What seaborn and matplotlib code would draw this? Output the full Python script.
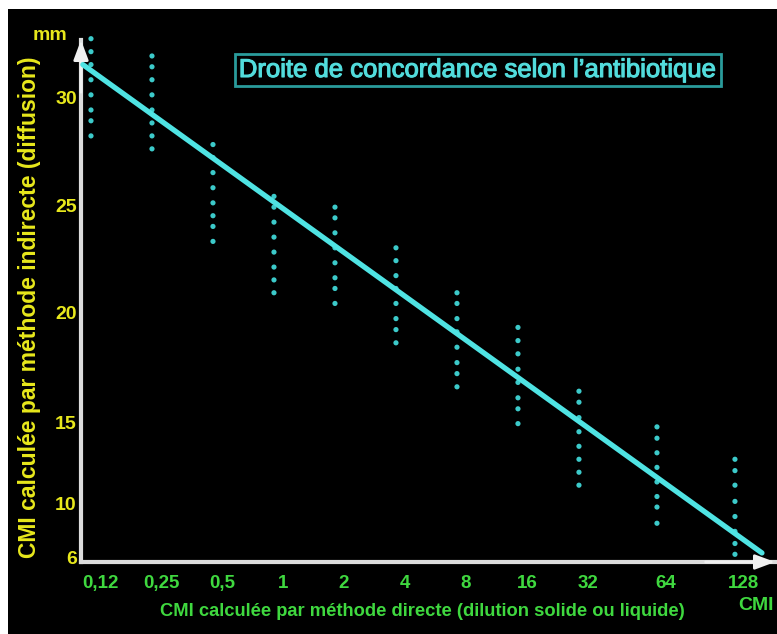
import numpy as np
import pandas as pd
import matplotlib
matplotlib.use('Agg')
import matplotlib.pyplot as plt
import matplotlib.transforms as mtransforms
import matplotlib.patheffects as pe
import seaborn as sns

# CMI dilutions and their tick labels
cmi = [0.125, 0.25, 0.5, 1, 2, 4, 8, 16, 32, 64, 128]
cmi_labels = ['0,12', '0,25', '0,5', '1', '2', '4', '8', '16', '32', '64', '128']

# inhibition diameters (mm) read for each dilution, one dotted column each
diam_0_12 = [32.7, 32.1, 31.5, 30.8, 30.1, 29.4, 28.9, 28.2]
diam_0_25 = [31.9, 31.4, 30.8, 30.1, 29.4, 28.8, 28.2, 27.6]
diam_0_5 = [27.8, 27.2, 26.5, 25.8, 25.1, 24.5, 24.0, 23.3]
diam_1 = [25.4, 24.9, 24.2, 23.5, 22.8, 22.1, 21.5, 20.9]
diam_2 = [24.9, 24.4, 23.7, 23.0, 22.3, 21.6, 21.1, 20.4]
diam_4 = [23.0, 22.4, 21.7, 21.1, 20.4, 19.7, 19.2, 18.6]
diam_8 = [20.9, 20.4, 19.7, 19.1, 18.4, 17.7, 17.2, 16.6]
diam_16 = [19.3, 18.7, 18.1, 17.4, 16.8, 16.1, 15.6, 14.9]
diam_32 = [16.4, 15.9, 15.2, 14.4, 13.5, 12.7, 11.9, 11.1]
diam_64 = [14.7, 14.0, 13.1, 12.2, 11.3, 10.4, 9.7, 8.5]
diam_128 = [12.7, 12.0, 11.1, 10.1, 9.0, 7.9, 7.0, 6.2]
diam_cols = [diam_0_12, diam_0_25, diam_0_5, diam_1, diam_2, diam_4,
             diam_8, diam_16, diam_32, diam_64, diam_128]

# concordance line end points
line_cmi = [0.114, 162.7]
line_mm = [31.5, 6.3]

y_ticks = [6, 10, 15, 20, 25, 30]

# the original axes are hand drawn: calibrate both scales on the picture
X_KNOTS = [-20, 5, 20]
X_POS = [-20, 5, 5 + 15 * 78 / 61]
Y_KNOTS = [-50, 6, 10, 15, 20, 25, 30, 80]
Y_POS = [-756, 0, 54, 135, 245, 352, 460, 1540]


def x_fwd(v):
    v = np.asarray(v, dtype=float)
    with np.errstate(divide='ignore', invalid='ignore'):
        l = np.log2(np.where(v > 0, v, 1e-12))
    return np.interp(l, X_KNOTS, X_POS)


def x_inv(u):
    return 2.0 ** np.interp(np.asarray(u, dtype=float), X_POS, X_KNOTS)


def y_fwd(v):
    return np.interp(np.asarray(v, dtype=float), Y_KNOTS, Y_POS)


def y_inv(u):
    return np.interp(np.asarray(u, dtype=float), Y_POS, Y_KNOTS)


df = pd.DataFrame({
    'cmi': np.repeat(cmi, [len(c) for c in diam_cols]),
    'mm': np.concatenate(diam_cols),
})
line_df = pd.DataFrame({'cmi': line_cmi, 'mm': line_mm})

sns.set_theme(style='dark')
plt.rcParams['font.family'] = ['Liberation Sans', 'DejaVu Sans']

YELLOW = '#e8e81c'
GREEN = '#3fd83f'

fig = plt.figure(figsize=(7.77, 6.34), dpi=100, facecolor='white')
fig.patches.append(plt.Rectangle((8 / 777, 0), 1, 1 - 9 / 634, transform=fig.transFigure,
                                 facecolor='black', edgecolor='none', zorder=-10))
ax = fig.add_axes([81 / 777, 72 / 634, 694 / 777, 522 / 634])
ax.set_facecolor('none')

ax.set_xscale('function', functions=(x_fwd, x_inv))
ax.set_yscale('function', functions=(y_fwd, y_inv))

sns.scatterplot(data=df, x='cmi', y='mm', ax=ax, color='#3ccaca', s=14,
                edgecolor='none', clip_on=False, zorder=3)
sns.lineplot(data=line_df, x='cmi', y='mm', ax=ax, color='#4fe3e3', linewidth=3.8,
             zorder=4, clip_on=False)

ax.set_xlim(0.1116, 182.7)
ax.set_ylim(5.63, 32.64)
ax.grid(False)

ax.set_xticks(cmi)
ax.set_xticklabels(cmi_labels)
ax.set_yticks(y_ticks)
ax.set_yticklabels([str(t) for t in y_ticks])
ax.xaxis.set_minor_locator(matplotlib.ticker.NullLocator())
ax.yaxis.set_minor_locator(matplotlib.ticker.NullLocator())
ax.tick_params(axis='x', length=0, pad=9.5, labelsize=13.5, labelcolor=GREEN)
ax.tick_params(axis='y', length=0, pad=3, labelsize=14, labelcolor=YELLOW)
for lab in ax.get_xticklabels() + ax.get_yticklabels():
    lab.set_fontweight('bold')
shift = mtransforms.ScaledTranslation(9 / 100, 0, fig.dpi_scale_trans)
for lab in ax.get_xticklabels():
    lab.set_transform(lab.get_transform() + shift)
ax.set_xlabel('')
ax.set_ylabel('')

for side in ['top', 'right']:
    ax.spines[side].set_visible(False)
for side in ['left', 'bottom']:
    ax.spines[side].set_visible(True)
    ax.spines[side].set_color('#dcdcdc')
    ax.spines[side].set_linewidth(3)

head = dict(arrowstyle='-|>,head_length=0.8,head_width=0.3', color='#f0f0f0',
            lw=2, shrinkA=0, shrinkB=0, mutation_scale=15)
ax.annotate('', xy=(0, 1), xytext=(0, 0.9), xycoords='axes fraction',
            arrowprops=head, annotation_clip=False)
ax.annotate('', xy=(1, 0), xytext=(0.9, 0), xycoords='axes fraction',
            arrowprops=head, annotation_clip=False)

fig.text(478 / 777, 1 - 70 / 634, 'Droite de concordance selon l’antibiotique',
         color='#52dcdc', fontsize=18.5, ha='center', va='center',
         path_effects=[pe.withStroke(linewidth=0.8, foreground='#52dcdc')],
         bbox=dict(boxstyle='square,pad=0.15', facecolor='black', edgecolor='#2a9c9c', lw=2))
fig.text(50 / 777, 1 - 36 / 634, 'mm', color=YELLOW, fontsize=14,
         fontweight='bold', ha='center', va='center')
fig.text(30 / 777, 1 - 307 / 634, 'CMI calculée par méthode indirecte (diffusion)',
         color=YELLOW, fontsize=16.5, fontweight='bold', rotation=90,
         ha='center', va='center')
fig.text(422 / 777, 1 - 611 / 634,
         'CMI calculée par méthode directe (dilution solide ou liquide)',
         color=GREEN, fontsize=13.2, fontweight='bold', ha='center', va='center')
fig.text(756 / 777, 1 - 606 / 634, 'CMI', color=GREEN, fontsize=14,
         fontweight='bold', ha='center', va='center')

fig.savefig('out.png', dpi=100, facecolor=fig.get_facecolor())
